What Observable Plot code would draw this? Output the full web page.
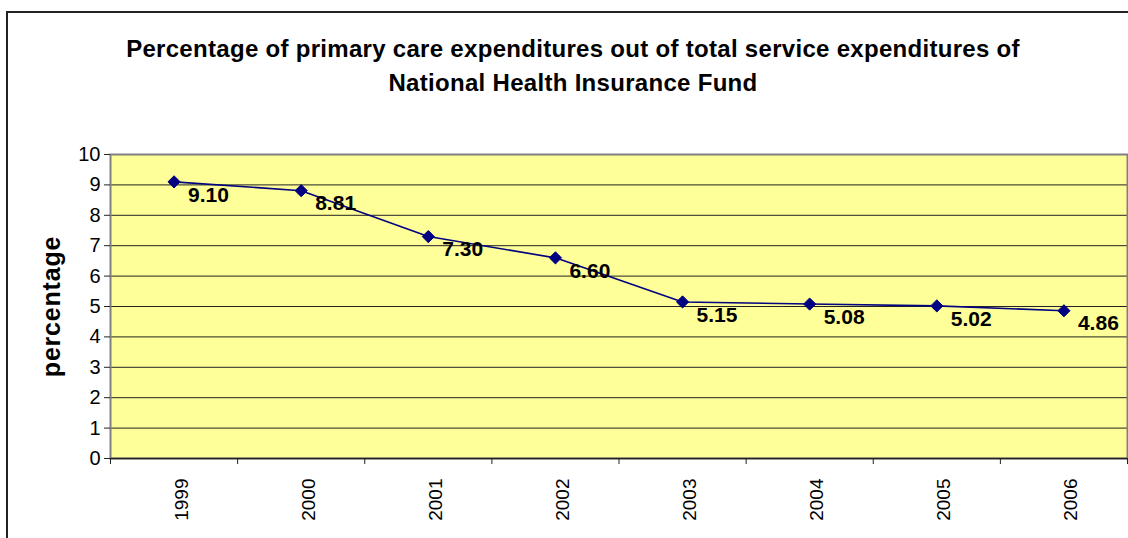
<!DOCTYPE html>
<html>
<head>
<meta charset="utf-8">
<script src="https://cdn.jsdelivr.net/npm/d3@7"></script>
<script src="https://cdn.jsdelivr.net/npm/@observablehq/plot@0.6"></script>
<style>
  html, body { margin: 0; padding: 0; background: #fff; overflow: hidden; }
  #wrap { position: relative; width: 1128px; height: 538px; font-family: Arial, "Liberation Sans", sans-serif; }
  #frame { position: absolute; left: 6px; top: 11px; width: 1130px; height: 540px; border-left: 2px solid #222; border-top: 2px solid #222; box-sizing: border-box; }
  #title { position: absolute; top: 32px; left: 20px; width: 1106px; text-align: center; font-weight: bold; font-size: 24px; letter-spacing: 0.3px; line-height: 34px; color: #000; }
  #chart { position: absolute; left: 0; top: 130px; }
  .ylab text { letter-spacing: 0.8px; }
</style>
</head>
<body>
<div id="wrap">
  <div id="frame"></div>
  <div id="title">Percentage of primary care expenditures out of total service expenditures of<br>National Health Insurance Fund</div>
  <div id="chart"></div>
</div>
<script>
const years = [1999, 2000, 2001, 2002, 2003, 2004, 2005, 2006];
const values = [9.10, 8.81, 7.30, 6.60, 5.15, 5.08, 5.02, 4.86];
const yTicks = [0, 1, 2, 3, 4, 5, 6, 7, 8, 9, 10];
const yLabel = "percentage";

const data = years.map((year, i) => ({year, value: values[i]}));
const boundaries = years.map(y => y - 0.5).concat([years[years.length - 1] + 0.5]);

const chart = Plot.plot({
  width: 1128,
  height: 408,
  marginTop: 24,
  marginBottom: 80,
  marginLeft: 110,
  marginRight: 1,
  style: {fontFamily: "Arial, 'Liberation Sans', sans-serif", color: "#000", background: "transparent", overflow: "visible"},
  x: {type: "linear", domain: [years[0] - 0.5, years[years.length - 1] + 0.5]},
  y: {domain: [0, 10]},
  marks: [
    Plot.frame({fill: "#FFFF99", stroke: "none"}),
    Plot.gridY(yTicks.slice(1, -1), {stroke: "#222", strokeOpacity: 1, strokeWidth: 1}),
    Plot.frame({stroke: "#808080", strokeWidth: 2}),
    Plot.ruleY([0], {stroke: "#222", strokeWidth: 1.5}),
    Plot.axisY(yTicks, {tickSize: 6, tickPadding: 4, fontSize: 20, tickFormat: d => String(d), label: null, stroke: "#222"}),
    Plot.axisX(boundaries, {tickSize: 6, tickFormat: () => "", label: null, stroke: "#222"}),
    Plot.axisX(years, {tickSize: 0, tickPadding: 20, rotate: -90, textAnchor: "end", fontSize: 19, tickFormat: d => String(d), label: null}),
    Plot.text([yLabel], {frameAnchor: "left", textAnchor: "middle", dx: -59, rotate: -90, fontSize: 25, fontWeight: "bold", fill: "#000", className: "ylab"}),
    Plot.line(data, {x: "year", y: "value", stroke: "#000080", strokeWidth: 1.6}),
    Plot.dot(data, {x: "year", y: "value", symbol: "diamond2", r: 5.5, fill: "#000080", stroke: "#000080", strokeWidth: 1}),
    Plot.text(data, {x: "year", y: "value", text: d => d.value.toFixed(2), textAnchor: "start", dx: 14, dy: 13, fontSize: 21, fontWeight: "bold", fill: "#000"})
  ]
});
document.getElementById("chart").appendChild(chart);
</script>
</body>
</html>
